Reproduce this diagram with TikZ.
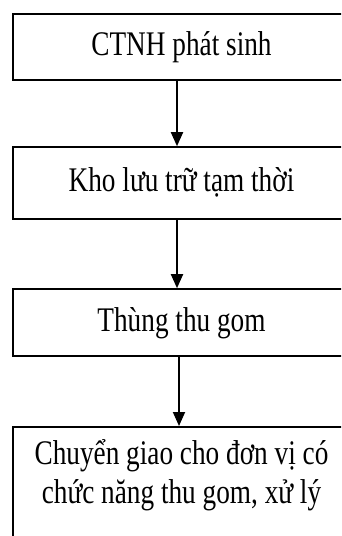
\documentclass[tikz,border=0pt]{standalone}
\usepackage{fontspec}
\setmainfont{Liberation Serif}[FakeStretch=0.79]
\usetikzlibrary{arrows.meta}
\begin{document}
\begin{tikzpicture}[x=1pt,y=-1pt,
  txt/.style={font=\fontsize{34.5}{39}\selectfont},
  stepbox/.style={txt, draw=black, line width=1.6pt, rectangle, minimum width=337pt,
    inner sep=0pt, text height=26pt, text depth=9pt},
  flow/.style={line width=1.8pt, -{Triangle[width=12pt,length=14pt]}}]
  \useasboundingbox (0,0) rectangle (341,536);
  \clip (0,0) rectangle (341,536);
  \fill[white] (0,0) rectangle (341,536);
  % process boxes (they run past the right and bottom edges)
  \node[stepbox, minimum height=66pt] (box1) at (181.5,47) {CTNH phát sinh};
  \node[stepbox, minimum height=72pt] (box2) at (181.5,183) {Kho lưu trữ tạm thời};
  \node[stepbox, minimum height=67pt] (box3) at (181.5,322.5) {Thùng thu gom};
  \node[stepbox, minimum height=150pt, anchor=north] (box4) at (181.5,426) {};
  \node[txt, align=center, inner sep=0pt] (box4text)
    at (181.5,475.5) {Chuyển giao cho đơn vị có\\chức năng thu gom, xử lý};
  % vertical connectors
  \coordinate (ax) at (177,0);
  \coordinate (bx) at (179,0);
  \draw[flow] (box1.south -| ax) -- (box2.north -| ax);
  \draw[flow] (box2.south -| ax) -- (box3.north -| ax);
  \draw[flow] (box3.south -| bx) -- (box4.north -| bx);
\end{tikzpicture}
\end{document}
